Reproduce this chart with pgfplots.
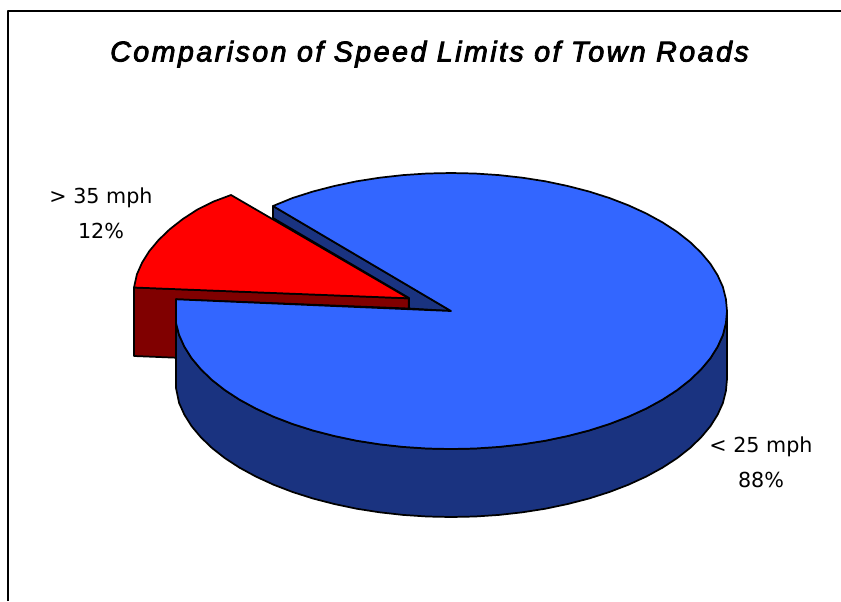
\documentclass[border=0pt]{standalone}
\usepackage{fontspec}
\setmainfont{Liberation Sans}
\newfontfamily\titlefont[LetterSpace=8.5,ItalicFeatures={FakeBold=3}]{Liberation Sans}
\newfontfamily\labelfont{DejaVu Sans}
\usepackage{pgfplots}
\pgfplotsset{compat=1.18}
\definecolor{pieblue}{RGB}{51,102,255}
\definecolor{piebluedark}{RGB}{26,51,128}
\definecolor{piered}{RGB}{255,0,0}
\definecolor{pieredside}{RGB}{128,0,0}
\begin{document}
\begin{tikzpicture}
\begin{axis}[
  scale only axis, width=630.75pt, height=450.75pt,
  xmin=0, xmax=841, ymin=0, ymax=601, y dir=reverse,
  hide axis,
  every axis plot/.append style={no markers, line width=1.3pt, line join=round, draw=black},
]
  % keeps the whole canvas in the bounding box
  \path (axis cs:0,0) -- (axis cs:841,601);

  % frame, open on the right and at the bottom
  \addplot[line width=1.5pt] coordinates {(8,601)(8,11)(841,11)};

  % slit wall of the blue slice
  \addplot[fill=piebluedark] coordinates {
    (273,206)(451,311)(409,308.5)(409,298)(273,218)
  } --cycle;

  % red slice, wall then top
  \addplot[fill=pieredside] coordinates {
    (134,287.5)(408.7,298.3)(408.7,308.5)(176,299.3)(176,357.7)(134,356)
  } --cycle;
  \addplot[fill=piered] coordinates {
    (134,287.5)(136.9,274.3)(142.1,262.6)(149.3,251.1)(158.7,239.9)(169.7,229.3)
    (182.7,219.1)(197.3,209.6)(213.6,201.5)(231,195)(408.7,298.3)
  } --cycle;

  % blue slice, rim then top
  \addplot[fill=piebluedark] coordinates {
    (727,311)(727,379)(725.9,391)(722.9,403)(717.6,414.7)(710.4,426.2)(701,437.4)(690,448)
    (677,458.2)(662.4,467.7)(646.1,476.6)(628.4,484.7)(609.4,492)(589,498.5)(567.7,504)
    (545.4,508.7)(522.4,512.3)(499,514.9)(475,516.5)(451,517)(427,516.5)(403,514.9)
    (379.6,512.3)(356.6,508.7)(334.3,504)(313,498.5)(292.6,492)(273.6,484.7)(256,476.6)
    (239.6,467.7)(225,458.2)(212,448)(201,437.4)(191.6,426.2)(184.4,414.7)(179.1,403)(176,388)
    (176,323)(179.1,335)(184.4,346.7)(191.6,358.2)(201,369.4)(212,380)(225,390.2)(239.6,399.7)
    (256,408.6)(273.6,416.7)(292.6,424)(313,430.5)(334.3,436)(356.6,440.7)(379.6,444.3)
    (403,446.9)(427,448.5)(451,449)(475,448.5)(499,446.9)(522.4,444.3)(545.4,440.7)
    (567.7,436)(589,430.5)(609.4,424)(628.4,416.7)(646.1,408.6)(662.4,399.7)(677,390.2)
    (690,380)(701,369.4)(710.4,358.2)(717.6,346.7)(722.9,335)(725.9,323)
  } --cycle;
  \addplot[fill=pieblue] coordinates {
    (451,311)(273,206)(292.6,198)(313,191.5)(334.3,186)(356.6,181.3)(379.6,177.7)(403,175.1)
    (427,173.5)(451,173)(475,173.5)(499,175.1)(522.4,177.7)(545.4,181.3)(567.7,186)(589,191.5)
    (609.4,198)(628.4,205.3)(646.1,213.4)(662.4,222.3)(677,231.8)(690,242)(701,252.6)
    (710.4,263.8)(717.6,275.3)(722.9,287)(725.9,299)(727,311)(725.9,323)(722.9,335)(717.6,346.7)
    (710.4,358.2)(701,369.4)(690,380)(677,390.2)(662.4,399.7)(646.1,408.6)(628.4,416.7)
    (609.4,424)(589,430.5)(567.7,436)(545.4,440.7)(522.4,444.3)(499,446.9)(475,448.5)(451,449)
    (427,448.5)(403,446.9)(379.6,444.3)(356.6,440.7)(334.3,436)(313,430.5)(292.6,424)(273.6,416.7)
    (256,408.6)(239.6,399.7)(225,390.2)(212,380)(201,369.4)(191.6,358.2)(184.4,346.7)(179.1,335)
    (176,323)(176,299.3)
  } --cycle;

  \node[anchor=base, font=\titlefont\itshape\fontsize{21.5pt}{24pt}\selectfont]
    at (axis cs:429.5,61.5) {Comparison of Speed Limits of Town Roads};
  \node[anchor=base, font=\labelfont\fontsize{15.5pt}{18pt}\selectfont] at (axis cs:101,203) {> 35 mph};
  \node[anchor=base, font=\labelfont\fontsize{15.5pt}{18pt}\selectfont] at (axis cs:101,238) {12\%};
  \node[anchor=base, font=\labelfont\fontsize{15.5pt}{18pt}\selectfont] at (axis cs:761,452.5) {< 25 mph};
  \node[anchor=base, font=\labelfont\fontsize{15.5pt}{18pt}\selectfont] at (axis cs:761,487) {88\%};
\end{axis}
\end{tikzpicture}
\end{document}
